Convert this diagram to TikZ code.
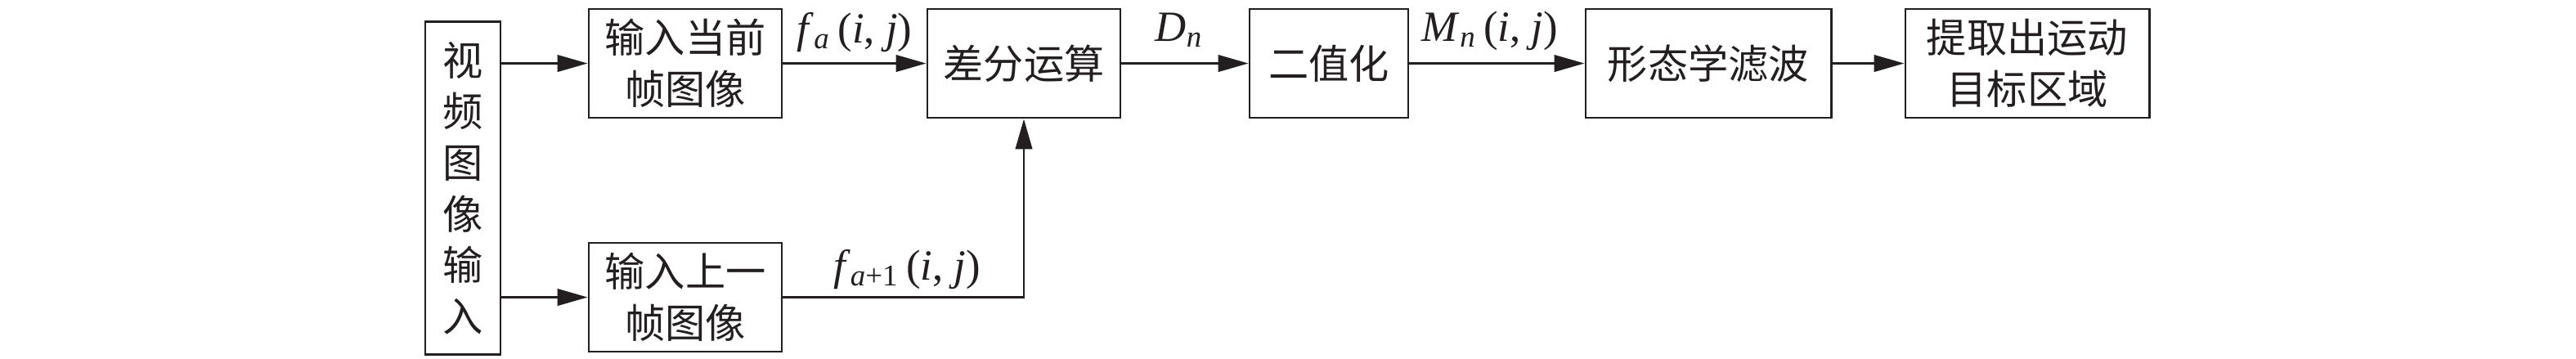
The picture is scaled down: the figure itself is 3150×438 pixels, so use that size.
\documentclass[tikz,border=0pt]{standalone}
\usepackage{fontspec}
\setmainfont{Liberation Serif}
\newfontfamily\cjk{Noto Sans CJK SC}
\usetikzlibrary{arrows.meta}
\definecolor{ink}{HTML}{231F20}
\begin{document}
\begin{tikzpicture}[x=0.01cm,y=-0.01cm,
  box/.style={draw=ink, line width=0.8pt, inner sep=0pt, align=center,
    font=\cjk\fontsize{14}{17.8}\selectfont, text=ink},
  conn/.style={draw=ink, line width=0.8pt, -{Triangle[length=10.5pt,width=5.8pt]}},
  lbl/.style={font=\fontsize{15}{18}\selectfont, text=ink, inner sep=0pt, anchor=base}]
\useasboundingbox (0,0) rectangle (3150,438);
\node[box, minimum width=0.92cm, minimum height=4.06cm] (v) at (566,230) {视\\频\\图\\像\\输\\入};
\node[box, minimum width=2.36cm, minimum height=1.33cm] (a) at (838,77.5) {输入当前\\帧图像};
\node[box, minimum width=2.36cm, minimum height=1.33cm] (b) at (838,363.5) {输入上一\\帧图像};
\node[box, minimum width=2.36cm, minimum height=1.33cm] (c) at (1252,77.5) {差分运算};
\node[box, minimum width=1.94cm, minimum height=1.33cm] (d) at (1625,77.5) {二值化};
\node[box, minimum width=3.00cm, minimum height=1.33cm] (e) at (2089,77.5) {形态学滤波};
\node[box, minimum width=2.98cm, minimum height=1.33cm] (f) at (2479,77.5) {提取出运动\\目标区域};
\draw[conn] (v.east |- a.west) -- (a.west);
\draw[conn] (v.east |- b.west) -- (b.west);
\draw[conn] (a.east) -- (c.west);
\draw[conn] (b.east) -| (c.south);
\draw[conn] (c.east) -- (d.west);
\draw[conn] (d.east) -- (e.west);
\draw[conn] (e.east) -- (f.west);
\node[lbl] (la) at (1045,52) {\textit{f}\textsubscript{\textit{a}}\,(\textit{i}, \textit{j})};
\node[lbl] (lb) at (1109,342) {\textit{f}\textsubscript{\textit{a}+1}\,(\textit{i}, \textit{j})};
\node[lbl] (lc) at (1442,50) {\textit{D}\textsubscript{\textit{n}}};
\node[lbl] (ld) at (1822,50) {\textit{M}\textsubscript{\textit{n}}\,(\textit{i}, \textit{j})};
\end{tikzpicture}
\end{document}
